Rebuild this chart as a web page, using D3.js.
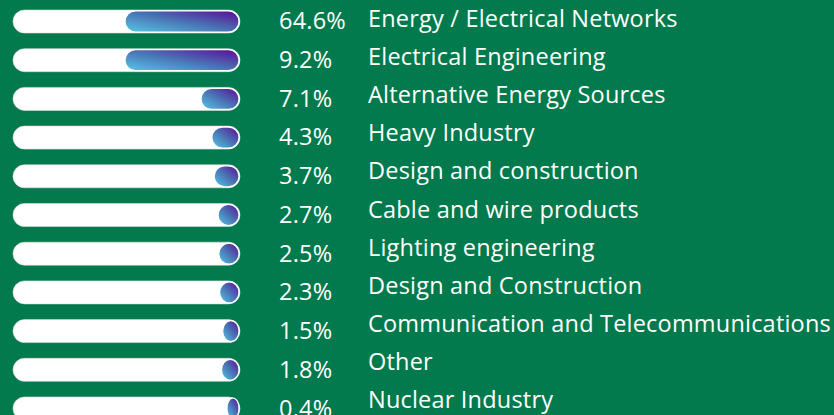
<!DOCTYPE html>
<html>
<head>
<meta charset="utf-8">
<script src="https://cdn.jsdelivr.net/npm/d3@7"></script>
<style>
  html, body { margin: 0; padding: 0; background: #027a4d; }
  svg { display: block; }
  text { font-family: "Open Sans", sans-serif; fill: #ffffff; }
</style>
</head>
<body>
<svg id="chart" width="834" height="415"></svg>
<script>
// chart data
const categories = [
  "Energy / Electrical Networks",
  "Electrical Engineering",
  "Alternative Energy Sources",
  "Heavy Industry",
  "Design and construction",
  "Cable and wire products",
  "Lighting engineering",
  "Design and Construction",
  "Communication and Telecommunications",
  "Other",
  "Nuclear Industry"
];
const shares = [64.6, 9.2, 7.1, 4.3, 3.7, 2.7, 2.5, 2.3, 1.5, 1.8, 0.4];
const shareLabels = ["64.6%", "9.2%", "7.1%", "4.3%", "3.7%", "2.7%", "2.5%", "2.3%", "1.5%", "1.8%", "0.4%"];

const width = 834;
const height = 415;
const trackLeft = 13;
const trackRight = 240;
const trackHeight = 23;

let svg = d3.select("#chart");

// gradient for the filled part of each pill
let defs = svg.append("defs");
let grad = defs.append("linearGradient")
  .attr("id", "pillFill")
  .attr("x1", "0").attr("y1", "1")
  .attr("x2", "1").attr("y2", "0");
grad.append("stop").attr("offset", "0%").attr("stop-color", "#56c8e6");
grad.append("stop").attr("offset", "50%").attr("stop-color", "#4a73b4");
grad.append("stop").attr("offset", "100%").attr("stop-color", "#5a0c96");

// row positions
let yScale = d3.scalePoint()
  .domain(categories)
  .range([21.5, 21.5 + 10 * 38.7]);
let labelScale = d3.scalePoint()
  .domain(categories)
  .range([26.7, 408.3]);
let pctScale = d3.scalePoint()
  .domain(categories)
  .range([29, 29 + 10 * 38.75]);

// bar length (the big shares are capped at half the track)
let wScale = d3.scaleLinear()
  .domain([0, 7.1, 9.2])
  .range([10.5, 38, 114])
  .clamp(true);

let rows = svg.selectAll("g.row")
  .data(categories.map((c, i) => ({name: c, value: shares[i], label: shareLabels[i]})))
  .enter().append("g")
  .attr("class", "row");

// white track
rows.append("rect")
  .attr("x", trackLeft)
  .attr("y", d => yScale(d.name) - trackHeight / 2)
  .attr("width", trackRight - trackLeft)
  .attr("height", trackHeight)
  .attr("rx", trackHeight / 2)
  .style("fill", "#ffffff")
  .style("stroke", "#d8ddd9")
  .style("stroke-width", 0.6);

// filled part, right aligned
rows.append("rect")
  .attr("x", d => trackRight - 1 - wScale(d.value))
  .attr("y", d => yScale(d.name) - trackHeight / 2 + 1)
  .attr("width", d => wScale(d.value))
  .attr("height", trackHeight - 2)
  .attr("rx", d => Math.min(10.5, wScale(d.value) / 2))
  .attr("ry", (trackHeight - 2) / 2)
  .style("fill", "url(#pillFill)")
  .style("stroke", "#ffffff")
  .style("stroke-width", 1.2);

rows.append("text")
  .attr("x", 279)
  .attr("y", d => pctScale(d.name))
  .style("font-size", "23.5px")
  .style("letter-spacing", "0.2px")
  .text(d => d.label);

rows.append("text")
  .attr("x", 368)
  .attr("y", d => labelScale(d.name))
  .style("font-size", "23.5px")
  .style("letter-spacing", "0.2px")
  .text(d => d.name);
</script>
</body>
</html>
